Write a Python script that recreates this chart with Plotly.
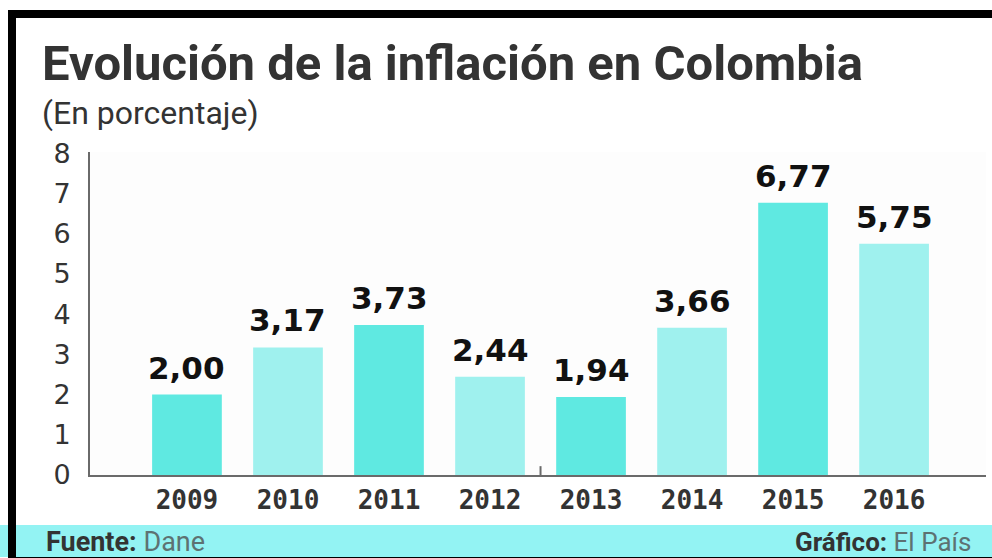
import plotly.graph_objects as go

# Inflation in Colombia, yearly (%)
years = ["2009", "2010", "2011", "2012", "2013", "2014", "2015", "2016"]
inflation = [2.00, 3.17, 3.73, 2.44, 1.94, 3.66, 6.77, 5.75]
value_labels = ["2,00", "3,17", "3,73", "2,44", "1,94", "3,66", "6,77", "5,75"]
y_ticks = [0, 1, 2, 3, 4, 5, 6, 7, 8]

W, H = 992, 558
DARK = "#5FE9E1"
LIGHT = "#9FF1EE"
bar_colors = [DARK if i % 2 == 0 else LIGHT for i in range(len(years))]

TITLE_FONT = "Liberation Sans Narrow, Roboto, Arial, sans-serif"
x_pos = list(range(len(years)))

fig = go.Figure()
fig.add_trace(go.Bar(
    x=x_pos, y=inflation, width=0.69,
    marker=dict(color=bar_colors, line=dict(width=0)),
    hoverinfo="skip",
))

# value labels above bars
for xi, v, lab in zip(x_pos, inflation, value_labels):
    fig.add_annotation(x=xi, y=v, xref="x", yref="y", text=f"<b>{lab}</b>",
                       showarrow=False, yanchor="bottom", yshift=7,
                       font=dict(family="DejaVu Sans", size=31, color="#111111"))

def px_x(p):
    return p / W

def px_y(p):
    return 1 - p / H

fig.update_layout(
    template="none",
    width=W, height=H,
    margin=dict(l=0, r=0, t=0, b=0, pad=0, autoexpand=False),
    paper_bgcolor="#ffffff",
    plot_bgcolor="#fdfdfd",
    showlegend=False,
    xaxis=dict(
        domain=[px_x(90), px_x(986)],
        range=[-0.96, 7.91],
        tickmode="array", tickvals=x_pos, ticktext=[f"<b>{y}</b>" for y in years],
        tickfont=dict(family="DejaVu Sans Mono", size=26, color="#333333"),
        showline=True, linecolor="#6a6a6a", linewidth=2,
        showgrid=False, zeroline=False, ticks="", ticklabelstandoff=1,
        automargin=False, fixedrange=True,
    ),
    yaxis=dict(
        domain=[px_y(475), px_y(152)],
        range=[0, 8.03],
        tickmode="array", tickvals=y_ticks,
        tickfont=dict(family="DejaVu Sans", size=27, color="#333333"),
        showline=True, linecolor="#6a6a6a", linewidth=2,
        showgrid=False, zeroline=False, ticks="", ticklabelstandoff=12,
        automargin=False, fixedrange=True,
    ),
)

shapes = [
    # footer band
    dict(type="rect", xref="paper", yref="paper", x0=0, x1=1, y0=px_y(557), y1=px_y(525),
         fillcolor="#93F3F3", line=dict(width=0), layer="below"),
    # frame
    dict(type="rect", xref="paper", yref="paper", x0=px_x(8), x1=1, y0=px_y(18), y1=px_y(10),
         fillcolor="#000000", line=dict(width=0)),
    dict(type="rect", xref="paper", yref="paper", x0=px_x(8), x1=px_x(16), y0=0, y1=px_y(10),
         fillcolor="#000000", line=dict(width=0)),
    dict(type="rect", xref="paper", yref="paper", x0=px_x(8), x1=1, y0=0, y1=px_y(557),
         fillcolor="#000000", line=dict(width=0)),
    # small tick between 2012 and 2013 on the baseline
    dict(type="line", xref="x", yref="y", x0=3.5, x1=3.5, y0=0, y1=0.22,
         line=dict(color="#6a6a6a", width=2)),
]
fig.update_layout(shapes=shapes)

fig.add_annotation(x=px_x(40), y=px_y(64), xref="paper", yref="paper",
                   xanchor="left", yanchor="middle", showarrow=False,
                   text="<b>Evolución de la inflación en Colombia</b>",
                   font=dict(family=TITLE_FONT, size=49, color="#333333"))
fig.add_annotation(x=px_x(40), y=px_y(113), xref="paper", yref="paper",
                   xanchor="left", yanchor="middle", showarrow=False,
                   text="(En porcentaje)",
                   font=dict(family=TITLE_FONT, size=32, color="#333333"))
fig.add_annotation(x=px_x(44), y=px_y(542), xref="paper", yref="paper",
                   xanchor="left", yanchor="middle", showarrow=False,
                   text="<b>Fuente:</b> <span style='color:#5d7272'>Dane</span>",
                   font=dict(family=TITLE_FONT, size=27, color="#333333"))
fig.add_annotation(x=px_x(973), y=px_y(542), xref="paper", yref="paper",
                   xanchor="right", yanchor="middle", showarrow=False,
                   text="<b>Gráfico:</b> <span style='color:#5d7272'>El País</span>",
                   font=dict(family=TITLE_FONT, size=26, color="#333333"))

fig.write_html("out.html", config={"displayModeBar": False})
